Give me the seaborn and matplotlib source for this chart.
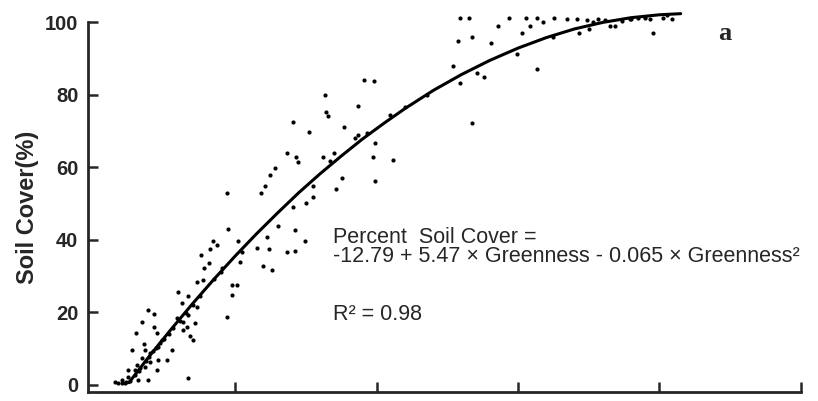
import matplotlib
matplotlib.use("Agg")
import matplotlib.pyplot as plt
import pandas as pd
import seaborn as sns

greenness = [
    5.95, 6.66, 6.28, 3.83, 4.30, 3.45, 5.88, 6.35, 7.17, 2.98, 4.30, 4.47, 6.35, 6.82, 7.05,
    2.70, 3.59, 3.64, 3.99, 4.58, 4.82, 5.53, 5.17, 4.58, 3.41, 4.47, 3.64, 2.46, 2.93, 2.46,
    1.99, 1.52, 3.17, 3.87, 2.23, 6.66, 3.05, 3.99,
    9.53, 10.23, 8.71, 8.45, 8.23, 7.58, 8.18, 7.81, 7.76, 7.29, 9.06, 10.35, 10.47, 11.53,
    12.24, 13.06, 14.08, 14.24, 13.65, 14.24, 12.42, 12.00, 12.59, 10.12, 9.79, 9.77, 9.41,
    7.29, 6.70, 6.59, 14.95, 15.02, 9.41,
    16.38, 18.67, 16.59, 16.43, 14.12, 15.25, 17.70, 18.71, 19.31, 20.95, 19.89, 19.73, 21.19,
    13.65, 14.47, 14.31, 16.20, 16.71, 12.83, 12.47, 12.12, 11.84, 17.54, 17.14, 19.89, 15.53,
    15.49, 19.14, 19.82, 23.55,
    25.90, 26.56, 29.39, 30.57, 31.36, 32.54, 33.44, 34.15, 34.86, 35.67, 28.61, 30.85, 31.75,
    30.26, 25.74, 26.77, 28.09, 34.33, 29.93, 31.32, 25.39, 25.92, 27.12, 27.60, 26.73, 36.50,
    36.86, 39.56, 38.98, 39.33, 40.27, 40.86, 37.33, 37.92, 38.50, 35.32, 36.15,
    2.6, 2.9, 3.2, 3.3, 3.7, 3.9, 4.2, 4.4, 4.7, 5.0, 5.3, 5.6, 6.1, 6.5, 7.0, 7.5, 8.5, 9.0,
    1.7, 2.0, 2.3, 22.0, 18.5, 17.0, 32.5, 35.0, 38.0, 39.0, 40.5,
]
soil_cover = [
    25.6, 24.4, 22.4, 20.6, 19.4, 17.3, 18.3, 17.3, 16.9, 14.3, 15.9, 14.3, 15.0, 13.4, 12.3,
    9.5, 11.2, 9.5, 8.6, 10.4, 12.3, 9.5, 6.8, 6.8, 7.2, 4.0, 4.7, 4.0, 4.0, 2.0,
    1.2, 0.8, 1.2, 1.2, 0.4, 1.7, 5.4, 6.3,
    42.8, 39.7, 38.5, 39.6, 37.3, 35.7, 33.4, 32.1, 28.8, 28.4, 32.1, 33.9, 36.6, 37.6,
    40.8, 43.7, 48.9, 42.6, 36.6, 36.9, 37.3, 32.7, 31.6, 27.4, 27.4, 24.7, 18.7,
    21.5, 19.2, 15.9, 39.7, 50.0, 52.7,
    79.8, 76.8, 74.1, 75.2, 72.5, 69.7, 71.0, 68.8, 69.3, 74.3, 66.7, 62.8, 61.9,
    63.8, 61.5, 62.8, 62.7, 61.7, 59.6, 57.8, 54.8, 52.7, 56.9, 53.8, 56.2, 54.8,
    51.8, 84.0, 83.8, 79.9,
    101.0, 101.0, 101.0, 101.0, 101.0, 101.0, 100.8, 100.8, 100.6, 100.8, 98.9, 98.9, 99.9,
    97.0, 94.8, 95.9, 94.1, 96.9, 91.1, 87.0, 87.9, 83.1, 86.0, 84.9, 72.1, 99.0,
    99.0, 96.9, 101.0, 100.8, 101.0, 100.8, 100.3, 100.8, 101.0, 99.9, 100.6,
    1.0, 2.5, 3.8, 4.6, 6.5, 7.6, 9.3, 10.0, 11.5, 12.5, 14.0, 15.5, 17.5, 19.6, 22.0, 24.5, 29.0, 31.0,
    0.5, 0.5, 0.6, 76.5, 68.0, 64.0, 96.0, 98.2, 100.8, 101.5, 101.9,
]

# fitted curve as drawn in the figure
fit_greenness = [2.5, 4, 5.5, 7, 8.5, 10, 11.5, 13, 14.5, 16, 17.5, 19, 20.5, 22, 24, 26,
                 28, 30, 32, 34, 36, 38, 40, 41.5]
fit_cover = [0.5, 8.1, 15.3, 22.3, 29.0, 35.4, 41.5, 47.3, 52.9, 58.1, 63.0, 67.7, 72.0, 76.1,
             81.1, 85.5, 89.4, 92.8, 95.7, 98.1, 99.9, 101.2, 102.0, 102.3]

y_ticks = [0, 20, 40, 60, 80, 100]
x_ticks = [10, 20, 30, 40, 50]

sns.set_style("ticks")
plt.rcParams["font.family"] = ["Liberation Sans", "DejaVu Sans"]

points = pd.DataFrame({"greenness": greenness, "cover": soil_cover})
curve = pd.DataFrame({"greenness": fit_greenness, "cover": fit_cover})

fig = plt.figure(figsize=(8.18, 4.01), dpi=100)
ax = fig.add_axes([0.1076, 0.0224, 0.8716, 0.9227])

# points and curve run slightly above the 100 line, so no clipping
sns.scatterplot(data=points, x="greenness", y="cover", color="black", s=9,
                linewidth=0, ax=ax, legend=False, clip_on=False)
sns.lineplot(data=curve, x="greenness", y="cover", color="black", linewidth=2.2,
             estimator=None, sort=True, ax=ax, clip_on=False)

ax.set_xlim(-0.39, 50)
ax.set_ylim(-2.07, 100)
ax.set_xticks(x_ticks)
ax.set_yticks(y_ticks)
ax.set_xticklabels([])
ax.set_yticklabels([str(t) for t in y_ticks], fontsize=14.5, fontweight="bold")
ax.tick_params(axis="both", direction="in", length=7, width=1.8, pad=7)
ax.set_xlabel("")
ax.set_ylabel("Soil Cover(%)", fontsize=17, fontweight="bold", labelpad=4)

for side in ["top", "right"]:
    ax.spines[side].set_visible(False)
for side in ["left", "bottom"]:
    ax.spines[side].set_linewidth(2)

ax.text(0.3436, 0.403, "Percent  Soil Cover =", transform=ax.transAxes,
        fontsize=15.5, va="baseline", ha="left")
ax.text(0.3436, 0.351, "-12.79 + 5.47 × Greenness - 0.065 × Greenness²",
        transform=ax.transAxes, fontsize=15.5, va="baseline", ha="left")
ax.text(0.3436, 0.195, "R² = 0.98", transform=ax.transAxes,
        fontsize=15.5, va="baseline", ha="left")
ax.text(0.8836, 0.951, "a", transform=ax.transAxes, fontsize=19,
        family="Liberation Serif", fontweight="bold", va="baseline", ha="left")

fig.savefig("out.png", dpi=100)
